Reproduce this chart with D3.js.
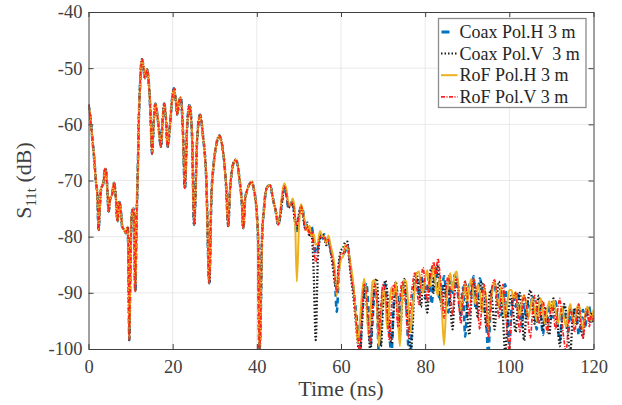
<!DOCTYPE html>
<html>
<head>
<meta charset="utf-8">
<script src="https://cdn.jsdelivr.net/npm/d3@7"></script>
<style>
body { margin: 0; background: #fff; }
svg { font-family: "Liberation Serif", "Times New Roman", serif; }
.legend-text { white-space: pre; }
</style>
</head>
<body>
<svg id="chart"></svg>
<script>
// readings where all four traces lie on top of each other (0 - 45 ns)
var earlyTime = [0, 0.4, 0.9, 1.4, 1.8, 2.1, 2.4, 2.7, 3.0, 3.5, 4.0, 4.4, 4.8, 5.1, 5.6, 6.1, 6.5, 6.9, 7.3, 7.7,
    8.0, 8.5, 8.9, 9.3, 9.5, 9.7, 9.9, 10.3, 10.7, 10.9, 11.1, 11.4, 11.7, 12.0, 12.2, 12.5, 12.7, 13.0, 13.4, 13.9,
    14.2, 14.5, 14.8, 15.1, 15.5, 15.9, 16.3, 16.7, 17.2, 17.6, 18.0, 18.4, 18.8, 19.4, 19.8, 20.3, 20.7, 21.1, 21.5, 21.9,
    22.4, 22.9, 23.4, 24.0, 24.6, 25.1, 25.8, 26.5, 27.2, 28.0, 28.7, 29.2, 29.7, 30.4, 31.1, 31.7, 32.2, 32.7, 33.2, 33.6,
    34.0, 34.5, 35.0, 35.5, 35.9, 36.4, 36.8, 37.2, 37.7, 38.3, 38.8, 39.2, 39.6, 40.0, 40.3, 40.6, 40.9, 41.2, 41.7, 42.3,
    43.1, 43.9, 44.5, 45.1];
var earlyLevel = [-56.5, -58.5, -62.5, -66.5, -70.5, -72.5, -78.8, -74.5, -71.5, -70.5, -67.8, -70.5, -75.5, -73.5, -72.5, -70.4, -73.0, -77.3, -73.8, -75.5,
    -78.2, -78.8, -79.4, -78.2, -85.0, -98.4, -88.0, -75.8, -75.0, -80.0, -89.8, -78.0, -68.7, -58.0, -53.9, -49.5, -48.4, -49.5, -51.8, -50.2,
    -51.5, -54.5, -59.5, -65.2, -59.5, -56.3, -58.0, -60.7, -64.0, -59.5, -56.3, -59.0, -64.0, -59.8, -56.0, -53.6, -55.5, -58.3, -56.0, -55.2,
    -60.5, -71.4, -61.0, -56.6, -62.0, -77.9, -63.0, -58.3, -62.0, -70.0, -88.3, -73.0, -67.5, -63.5, -62.0, -63.5, -66.3, -71.0, -78.1, -72.0,
    -68.7, -66.8, -66.3, -67.5, -69.9, -73.5, -78.5, -73.5, -71.7, -70.6, -70.2, -71.2, -72.9, -76.0, -80.6, -100.5, -95.0, -81.2, -75.0, -71.4,
    -70.8, -73.5, -75.5, -77.9];

// 45.5 - 120 ns, every 0.5 ns
var lateTime = d3.range(45.5, 120.01, 0.5);

var coaxH = [-76.5, -73.5, -71.2, -72.5, -74.8, -74.2, -73.6, -76.5, -79.5, -76.5,
    -74.6, -75.5, -78.6, -77.5, -79.0, -78.2, -80.5, -83.0, -82.0, -79.8,
    -80.5, -79.6, -80.8, -80.2, -82.4, -83.8, -86.5, -93.4, -86.0, -83.5,
    -83.2, -82.6, -81.6, -83.8, -86.8, -89.5, -92.8, -96.5, -100.5, -94.0,
    -90.5, -88.2, -92.5, -99.5, -95.0, -89.5, -91.0, -101, -96.5, -89.0,
    -88.5, -93.0, -97.5, -101, -92.0, -89.0, -90.5, -95.5, -89.5, -88.8,
    -91.5, -99.5, -101, -92.5, -88.5, -87.5, -90.5, -87.0, -88.5, -91.0,
    -89.0, -86.5, -92.0, -88.5, -85.5, -88.0, -91.5, -89.5, -87.0, -90.5,
    -93.5, -88.0, -90.0, -86.8, -88.5, -91.5, -94.0, -89.0, -97.8, -92.0,
    -88.5, -90.5, -87.0, -93.0, -91.0, -87.4, -89.5, -92.5, -95.0, -101,
    -93.0, -89.0, -88.5, -91.0, -90.0, -94.0, -92.5, -88.5, -93.5, -99.0,
    -93.0, -90.5, -92.5, -89.8, -94.0, -96.0, -92.0, -94.5, -91.5, -93.0,
    -90.5, -93.5, -96.5, -92.0, -94.0, -97.5, -93.5, -95.0, -92.0, -94.5,
    -92.5, -91.5, -96.0, -98.5, -94.0, -92.5, -95.5, -97.0, -93.0, -95.0,
    -92.5, -94.0, -97.5, -95.0, -93.0, -96.0, -93.5, -92.5, -95.5, -94.0];

var coaxV = [-76.8, -73.8, -71.0, -72.0, -74.5, -74.8, -74.0, -77.0, -78.5, -76.0,
    -74.8, -76.5, -78.5, -78.0, -80.0, -79.5, -86.0, -98.4, -84.0, -80.5,
    -79.5, -80.2, -81.5, -80.5, -82.5, -85.0, -88.0, -89.5, -84.5, -82.5,
    -82.0, -81.0, -80.9, -84.5, -88.0, -91.0, -95.0, -99.0, -101, -95.5,
    -89.0, -91.5, -96.0, -100.5, -93.0, -88.5, -87.5, -94.0, -99.5, -92.0,
    -87.8, -90.0, -95.5, -99.0, -93.5, -88.0, -92.0, -97.5, -92.0, -87.5,
    -90.0, -94.5, -101, -96.5, -88.0, -86.5, -89.5, -92.5, -88.0, -90.5,
    -93.5, -88.0, -85.5, -90.0, -87.0, -85.0, -89.5, -93.0, -88.5, -91.0,
    -89.0, -92.5, -96.5, -90.0, -87.5, -89.5, -93.5, -91.0, -88.0, -93.5,
    -97.5, -91.0, -88.5, -90.5, -94.5, -89.5, -88.0, -91.5, -96.0, -93.0,
    -89.5, -92.0, -96.5, -91.0, -88.0, -90.5, -94.5, -100.5, -96.0, -92.0,
    -90.5, -94.0, -97.0, -92.5, -90.0, -93.5, -98.5, -94.0, -91.0, -89.5,
    -92.0, -95.5, -93.0, -90.5, -94.0, -96.5, -92.5, -94.5, -97.5, -93.0,
    -91.0, -94.5, -96.0, -99.5, -95.0, -92.0, -93.5, -98.0, -100.5, -95.0,
    -93.0, -95.5, -92.5, -96.0, -98.0, -94.5, -92.5, -95.0, -93.5, -95.5];

var rofH = [-76.0, -72.5, -70.5, -71.5, -74.0, -74.5, -73.2, -75.0, -88.0, -78.5,
    -74.2, -75.8, -77.5, -79.0, -78.0, -80.0, -79.5, -81.5, -81.0, -79.0,
    -79.8, -80.0, -81.2, -79.8, -81.5, -83.0, -85.5, -90.5, -86.5, -84.0,
    -83.5, -81.5, -82.0, -83.5, -86.0, -89.0, -94.0, -99.0, -95.0, -90.0,
    -87.5, -90.5, -97.5, -93.5, -88.0, -87.7, -91.5, -99.5, -94.0, -89.5,
    -91.0, -96.5, -92.0, -89.0, -90.5, -88.0, -94.0, -99.5, -91.5, -87.8,
    -88.0, -92.5, -97.0, -93.0, -89.5, -86.5, -86.2, -88.5, -90.0, -87.5,
    -86.0, -89.0, -87.5, -85.0, -88.5, -90.5, -87.0, -93.5, -99.3, -92.0,
    -88.0, -86.5, -89.5, -87.0, -86.2, -90.0, -93.0, -91.0, -88.5, -91.5,
    -89.0, -87.5, -90.5, -92.0, -88.5, -90.0, -93.5, -89.0, -91.0, -96.5,
    -92.0, -89.5, -88.0, -90.5, -92.5, -89.0, -91.5, -94.5, -92.0, -89.5,
    -89.5, -91.0, -89.8, -92.5, -94.0, -91.5, -90.4, -92.0, -94.5, -92.5,
    -91.0, -93.0, -95.0, -92.5, -91.0, -93.5, -95.5, -93.0, -91.5, -93.5,
    -91.3, -93.0, -95.5, -94.0, -92.5, -94.5, -96.0, -93.5, -92.0, -94.5,
    -95.5, -93.0, -92.0, -94.5, -96.5, -94.0, -92.5, -93.5, -95.0, -93.0];

var rofV = [-76.2, -73.0, -71.0, -72.2, -74.6, -74.5, -73.8, -76.0, -78.0, -76.5,
    -74.5, -76.0, -78.8, -78.2, -79.5, -79.0, -82.0, -84.5, -82.5, -80.0,
    -80.2, -79.8, -81.0, -80.5, -82.8, -84.0, -87.0, -90.0, -85.5, -83.0,
    -83.0, -82.0, -81.5, -84.0, -87.5, -90.0, -94.5, -98.0, -100.5, -93.5,
    -88.5, -90.0, -95.5, -99.0, -92.5, -88.5, -91.0, -97.5, -92.0, -88.5,
    -89.5, -94.0, -98.5, -92.5, -88.5, -90.0, -96.0, -91.0, -88.0, -89.5,
    -93.5, -98.0, -92.0, -88.5, -86.5, -89.0, -92.0, -88.0, -85.5, -88.5,
    -91.5, -88.0, -86.0, -84.5, -87.0, -83.9, -86.5, -90.5, -94.5, -89.0,
    -87.0, -90.0, -94.0, -89.5, -87.5, -92.0, -95.5, -90.0, -88.0, -90.5,
    -94.0, -89.5, -87.5, -89.0, -93.0, -96.5, -91.5, -88.5, -92.0, -98.0,
    -92.5, -88.5, -87.7, -90.5, -94.5, -91.0, -88.5, -92.5, -97.0, -100.5,
    -94.5, -91.0, -90.0, -93.5, -97.0, -93.0, -90.5, -92.0, -95.5, -98.0,
    -93.5, -90.5, -92.5, -95.5, -93.0, -91.5, -94.0, -97.0, -94.5, -92.5,
    -94.0, -96.5, -93.0, -91.0, -95.0, -98.5, -100.5, -96.0, -93.0, -94.5,
    -97.0, -94.0, -92.0, -95.5, -98.0, -94.5, -93.0, -96.0, -94.0, -95.0];

var seriesNames = ["Coax Pol.H 3 m", "Coax Pol.V  3 m", "RoF Pol.H 3 m", "RoF Pol.V 3 m"];
var seriesLate = [coaxH, coaxV, rofH, rofV];
var xTicks = [0, 20, 40, 60, 80, 100, 120];
var yTicks = [-100, -90, -80, -70, -60, -50, -40];

var styles = [
    {color: "#0072BD", width: 2.6, dash: "6,4", legendDash: "8,20"},
    {color: "#1a1a1a", width: 2.3, dash: "1.5,2", legendDash: "1.5,2"},
    {color: "#EDB120", width: 2, dash: null, legendDash: null},
    {color: "#FF2020", width: 1.7, dash: "4,1.5,1,1.5", legendDash: "4,1.5,1,1.5"}
];

var width = 622, height = 405;
var margin = {left: 88.5, right: 28.5, top: 12, bottom: 56};
var svg = d3.select("#chart").attr("width", width).attr("height", height);

var x = d3.scaleLinear().domain([0, 120]).range([margin.left, width - margin.right]);
var y = d3.scaleLinear().domain([-100, -40]).range([height - margin.bottom, margin.top]);

svg.append("defs").append("clipPath").attr("id", "plotclip")
    .append("rect")
    .attr("x", x(0)).attr("y", y(-40))
    .attr("width", x(120) - x(0)).attr("height", y(-100) - y(-40));

// grid
var grid = svg.append("g");
grid.selectAll("line.gx").data(xTicks.slice(1, -1)).enter().append("line")
    .attr("x1", d => x(d)).attr("x2", d => x(d))
    .attr("y1", y(-40)).attr("y2", y(-100))
    .attr("stroke", "#e3e3e3").attr("stroke-width", 0.8);
grid.selectAll("line.gy").data(yTicks.slice(1, -1)).enter().append("line")
    .attr("x1", x(0)).attr("x2", x(120))
    .attr("y1", d => y(d)).attr("y2", d => y(d))
    .attr("stroke", "#e3e3e3").attr("stroke-width", 0.8);

// traces
var line = d3.line()
    .x(d => x(d[0]))
    .y(d => y(d[1]))
    .curve(d3.curveMonotoneX);

var plot = svg.append("g").attr("clip-path", "url(#plotclip)");
seriesLate.forEach(function (vals, i) {
    var pts = earlyTime.map((t, j) => [t, earlyLevel[j]]);
    lateTime.forEach((t, j) => pts.push([t, vals[j]]));
    var s = styles[i];
    plot.append("path")
        .datum(pts)
        .attr("d", line)
        .attr("fill", "none")
        .attr("stroke", s.color)
        .attr("stroke-width", s.width)
        .attr("stroke-dasharray", s.dash)
        .attr("stroke-linejoin", "round");
});

// axes with inward ticks on all sides
var axisColor = "#404040";
function styleAxis(g) {
    g.select(".domain").attr("stroke", axisColor).attr("stroke-width", 1);
    g.selectAll(".tick line").attr("stroke", axisColor);
    g.selectAll(".tick text").attr("fill", axisColor)
        .attr("font-family", "Liberation Serif, Times New Roman, serif")
        .attr("font-size", 18.5);
}
svg.append("g").attr("transform", "translate(0," + y(-100) + ")")
    .call(d3.axisBottom(x).tickValues(xTicks).tickSizeInner(-5).tickSizeOuter(0).tickPadding(11))
    .call(styleAxis);
svg.append("g").attr("transform", "translate(0," + y(-40) + ")")
    .call(d3.axisTop(x).tickValues(xTicks).tickSizeInner(-5).tickSizeOuter(0).tickFormat(""))
    .call(styleAxis);
svg.append("g").attr("transform", "translate(" + x(0) + ",0)")
    .call(d3.axisLeft(y).tickValues(yTicks).tickSizeInner(-5).tickSizeOuter(0).tickPadding(6)
        .tickFormat(d3.format("d")))
    .call(styleAxis);
svg.append("g").attr("transform", "translate(" + x(120) + ",0)")
    .call(d3.axisRight(y).tickValues(yTicks).tickSizeInner(-5).tickSizeOuter(0).tickFormat(""))
    .call(styleAxis);
svg.selectAll(".tick text").text(function () { return this.textContent.replace("\u2212", "-"); });

// axis labels
svg.append("text")
    .attr("x", (x(0) + x(120)) / 2).attr("y", 396)
    .attr("text-anchor", "middle").attr("font-size", 22).attr("fill", axisColor)
    .text("Time (ns)");
var yl = svg.append("text")
    .attr("transform", "translate(31," + ((y(-40) + y(-100)) / 2) + ") rotate(-90)")
    .attr("text-anchor", "middle").attr("font-size", 22).attr("fill", axisColor);
yl.append("tspan").text("S");
yl.append("tspan").attr("font-size", 15).attr("dy", 5).text("11t");
yl.append("tspan").attr("dy", -5).text(" (dB)");

// legend
var lg = svg.append("g").attr("transform", "translate(438.5,18.5)");
lg.append("rect").attr("width", 147.5).attr("height", 89)
    .attr("fill", "#fff").attr("stroke", "#8c8c8c").attr("stroke-width", 1.3);
seriesNames.forEach(function (name, i) {
    var cy = 13.5 + i * 21.6;
    var s = styles[i];
    lg.append("line")
        .attr("x1", i === 0 ? 3 : 2.5).attr("x2", 19)
        .attr("y1", cy).attr("y2", cy)
        .attr("stroke", s.color)
        .attr("stroke-width", i === 0 ? 3 : Math.min(s.width, 2))
        .attr("stroke-dasharray", s.legendDash);
    lg.append("text")
        .attr("class", "legend-text")
        .attr("x", 21).attr("y", cy + 6)
        .attr("font-size", 18).attr("fill", "#262626")
        .text(name);
});
</script>
</body>
</html>
